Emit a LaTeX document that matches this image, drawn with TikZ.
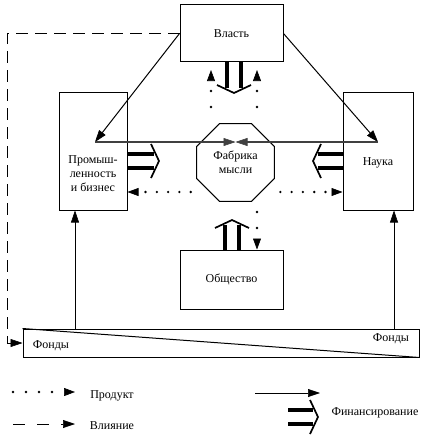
\documentclass[tikz,border=0pt]{standalone}
\usepackage{fontspec}
\setmainfont{Liberation Serif}
\usetikzlibrary{arrows.meta,shapes.geometric}
\tikzset{pics/fin/.style={code={
  \draw[line width=3.2pt] (-#1,7)--(-5,7) (-#1,-7)--(-5,-7);
  \draw[line width=1.7pt,line join=miter] (-8,17)--(0,0)--(-8,-17);
}}}
\begin{document}
\begin{tikzpicture}[x=1pt,y=-1pt,
  box/.style={draw,line width=1pt,rectangle,inner sep=0pt},
  lbl/.style={font=\fontsize{12}{14}\selectfont,align=center,inner sep=0pt},
  tip/.style={-{Triangle[length=12pt,width=8pt,line width=0.6pt]}},
  arr/.style={line width=1pt,tip},
  prod/.style={line width=2.6pt,line cap=round,dash pattern=on 0pt off #1,dash phase=8pt,-{Triangle[length=11pt,width=8pt,line width=0.6pt]}},
  prod/.default=11.3pt,
  infl/.style={line width=1pt,dash pattern=on 12pt off 7pt,tip}]
\useasboundingbox (0,0) rectangle (426,444);

% boxes
\node[box,minimum width=103pt,minimum height=57pt] (vlast) at (231.5,33.5) {};
\node[lbl] (vlastt) at (vlast.center) {Власть};
\node[box,minimum width=68pt,minimum height=118pt] (prom) at (93,151) {};
\node[lbl] (promt) at (93,174) {Промыш-\\ленность\\и бизнес};
\node[box,minimum width=70pt,minimum height=118pt] (nauka) at (378,151) {};
\node[lbl] (naukat) at (378,163) {Наука};
\node[draw,line width=1pt,regular polygon,regular polygon sides=8,minimum size=84pt,inner sep=0pt,lbl] (fab) at (235.5,162.5) {Фабрика\\мысли};
\node[box,minimum width=103pt,minimum height=59pt] (obsh) at (231.5,279.5) {};
\node[lbl] (obsht) at (obsh.center) {Общество};
\node[box,minimum width=396pt,minimum height=28pt] (fonds) at (221,343) {};
\draw[line width=1pt] (fonds.north west) -- (fonds.south east);
\node[lbl] (fondl) at (51,346) {Фонды};
\node[lbl] (fondr) at (391,339) {Фонды};

% influence of power
\coordinate (pL) at (95,142);
\coordinate (pR) at (378,142);
\coordinate (cM) at (235.5,142);
\draw[arr] (vlast.west) -- (pL);
\draw[arr] (vlast.east) -- (pR);
\draw[arr,line width=1.3pt,draw=black!75] (pL) -- (cM);
\draw[arr,line width=1.3pt,draw=black!75] (pR) -- (cM);

% dashed influence to funds
\coordinate (dc) at (7,200);
\draw[infl] (vlast.west) -| (dc) |- (fonds.west);

% funds up
\coordinate (fl) at (75,0);
\coordinate (fr) at (394,0);
\draw[arr] (fonds.north -| fl) -- (prom.south -| fl);
\draw[arr] (fonds.north -| fr) -- (nauka.south -| fr);

% financing double arrows
\coordinate (t1) at (234,93);
\coordinate (t2) at (232,220);
\coordinate (t3) at (159,161);
\coordinate (t4) at (313,161);
\pic[rotate=-90] at (t1) {fin=31};
\pic[rotate=90] at (t2) {fin=30};
\pic at (t3) {fin=32};
\pic[rotate=180] at (t4) {fin=30};

% product dotted arrows
\coordinate (u1s) at (211,115);
\coordinate (u2s) at (257,115);
\draw[prod=16pt] (u1s) -- (u1s |- 0,70);
\draw[prod=16pt] (u2s) -- (u2s |- 0,70);
\coordinate (ds) at (257,204);
\draw[prod=16pt] (ds) -- (ds |- obsh.north);
\coordinate (ls) at (194,192);
\coordinate (rs) at (277,192);
\draw[prod] (ls) -- (prom.east |- ls);
\draw[prod] (rs) -- (nauka.west |- rs);

% legend
\coordinate (l1a) at (13,392);
\coordinate (l1b) at (75,392);
\draw[prod=13pt,dash phase=0pt] (l1a) -- (l1b);
\node[lbl] (leg1) at (112,396) {Продукт};
\coordinate (l2a) at (13,424);
\coordinate (l2b) at (75,424);
\draw[infl,dash pattern=on 12pt off 12pt] (l2a) -- (l2b);
\node[lbl] (leg2) at (112,426) {Влияние};
\coordinate (l3a) at (255,393);
\coordinate (l3b) at (320,393);
\draw[arr] (l3a) -- (l3b);
\coordinate (t5) at (318,417);
\pic at (t5) {fin=30};
\node[lbl] (leg3) at (375,413) {Финансирование};
\end{tikzpicture}
\end{document}
